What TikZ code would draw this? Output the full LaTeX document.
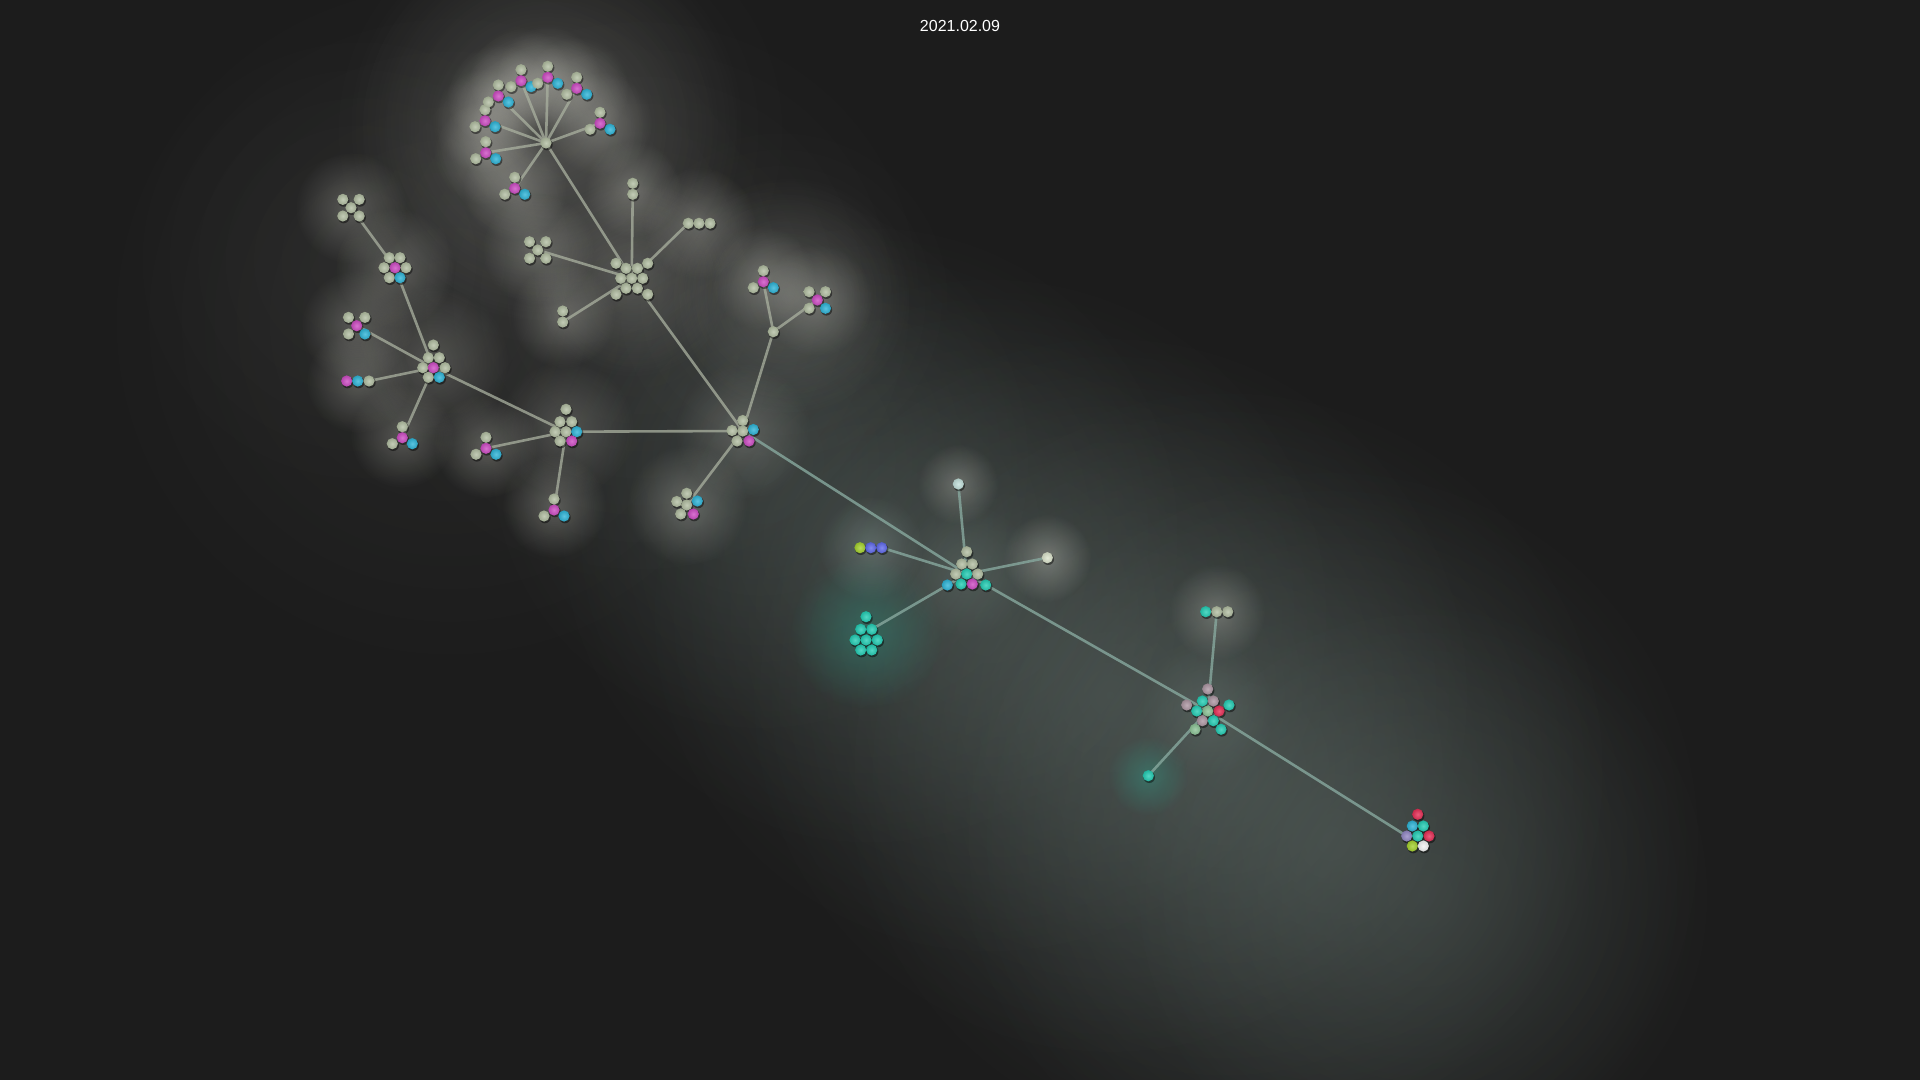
\documentclass[tikz,border=0pt]{standalone}
\usepackage{fontspec}
\setmainfont{Liberation Sans}
\usetikzlibrary{fadings}
\definecolor{bgc}{RGB}{28,28,28}
\definecolor{gr}{RGB}{178,190,162}
\definecolor{mg}{RGB}{205,75,195}
\definecolor{cy}{RGB}{45,180,215}
\definecolor{tl}{RGB}{35,205,180}
\definecolor{mv}{RGB}{172,150,162}
\definecolor{rd}{RGB}{230,45,85}
\definecolor{bu}{RGB}{95,105,235}
\definecolor{lm}{RGB}{165,210,45}
\definecolor{wh}{RGB}{245,245,245}
\definecolor{pc}{RGB}{195,225,220}
\definecolor{pw}{RGB}{220,228,205}
\definecolor{mt}{RGB}{140,195,150}
\definecolor{lv}{RGB}{145,135,195}
\definecolor{edgeup}{RGB}{170,177,160}
\definecolor{edgelo}{RGB}{135,168,158}
\definecolor{glw}{RGB}{215,215,205}
\definecolor{fog}{RGB}{120,122,118}
\definecolor{band}{RGB}{115,132,126}
\definecolor{tglow}{RGB}{40,200,170}
\tikzfading[name=glowf, inner color=transparent!0, outer color=transparent!100]
\pgfdeclarelayer{glowl}\pgfdeclarelayer{edgel}\pgfdeclarelayer{shadl}
\pgfsetlayers{glowl,edgel,shadl,main}
\tikzset{
  ball/.style={circle, inner sep=0pt, minimum size=5.6pt, inner color=#1!78!white, outer color=#1!88!black},
  lnk/.style={line width=1.3pt, draw=edgeup, opacity=.75},
  lnklo/.style={line width=1.3pt, draw=edgelo, opacity=.8},
}
% ball: name, colour, x, y
\newcommand\bl[4]{%
  \begin{pgfonlayer}{shadl}\fill[black,opacity=.45] (#3+0.9,#4+1.5) circle[radius=2.9pt];\end{pgfonlayer}%
  \node[ball=#2] (#1) at (#3,#4) {};}
% triad: magenta centre, green above, green lower left, cyan lower right
\newcommand\tri[3]{\bl{#1}{mg}{#2}{#3}\bl{#1t}{gr}{#2}{#3-11}\bl{#1l}{gr}{#2-10}{#3+6}\bl{#1r}{cy}{#2+10}{#3+6}}
% cross: centre, four diagonal neighbours
\newcommand\crs[5]{\bl{#1}{#4}{#2}{#3}\bl{#1a}{gr}{#2-8.2}{#3-8.3}\bl{#1b}{gr}{#2+8.2}{#3-8.3}\bl{#1c}{gr}{#2-8.2}{#3+8.3}\bl{#1d}{#5}{#2+8.2}{#3+8.3}}
% glow: x, y, radius(px), colour, opacity
\newcommand\glo[5]{\fill[#4, opacity=#5, path fading=glowf] (#1,#2) circle[radius=#3pt];}
\begin{document}
\begin{tikzpicture}[x=0.5pt,y=-0.5pt]
\useasboundingbox (0,0) rectangle (1920,1080);
\begin{pgfonlayer}{glowl}
\fill[bgc] (0,0) rectangle (1920,1080);
% band in lower right
\glo{760}{460}{140}{band}{.2}
\glo{870}{535}{160}{band}{.22}
\glo{990}{615}{175}{band}{.22}
\glo{1110}{695}{185}{band}{.24}
\glo{1225}{770}{195}{band}{.26}
\glo{1330}{840}{190}{band}{.26}
\glo{1420}{895}{150}{band}{.2}
% upper fog
\glo{450}{320}{180}{fog}{.13}
\glo{640}{300}{150}{fog}{.13}
\glo{560}{130}{120}{fog}{.12}
\glo{360}{260}{120}{fog}{.1}
\glo{780}{300}{90}{fog}{.13}
% halos upper
\glo{546}{125}{100}{glw}{.2}
\foreach \x/\y in {514.7/188.3,485.7/152.7,485/120.7,498.3/96,521/80.7,547.7/77.3,576.7/88.3,600/123.3}{\glo{\x}{\y}{26}{glw}{.3}}
\glo{632}{278}{50}{glw}{.2}
\glo{633}{189}{24}{glw}{.3}
\glo{699}{223}{28}{glw}{.3}
\glo{538}{250}{28}{glw}{.28}
\glo{563}{316}{26}{glw}{.3}
\glo{790}{295}{60}{glw}{.18}
\glo{763}{278}{26}{glw}{.28}
\glo{817}{300}{28}{glw}{.28}
\glo{743}{431}{34}{glw}{.22}
\glo{687}{505}{30}{glw}{.3}
\glo{566}{428}{34}{glw}{.22}
\glo{486}{446}{26}{glw}{.3}
\glo{554}{506}{26}{glw}{.3}
\glo{433}{362}{38}{glw}{.22}
\glo{395}{268}{30}{glw}{.28}
\glo{351}{208}{28}{glw}{.28}
\glo{357}{326}{28}{glw}{.28}
\glo{358}{381}{26}{glw}{.28}
\glo{402}{436}{26}{glw}{.28}
% halos lower
\glo{958}{484}{20}{glw}{.3}
\glo{1047}{558}{22}{glw}{.35}
\glo{871}{548}{26}{pc}{.22}
\glo{866}{633}{38}{tglow}{.28}
\glo{966}{570}{34}{band}{.3}
\glo{1217}{612}{24}{glw}{.3}
\glo{1148}{776}{20}{tglow}{.28}
\glo{1208}{709}{34}{band}{.3}
\end{pgfonlayer}
% ---------- balls ----------
\bl{T}{gr}{546}{143}
\tri{Ta}{514.7}{188.3}\tri{Tb}{485.7}{152.7}\tri{Tc}{485}{120.7}\tri{Td}{498.3}{96}
\tri{Te}{521}{80.7}\tri{Tf}{547.7}{77.3}\tri{Tg}{576.7}{88.3}\tri{Th}{600}{123.3}
% B
\bl{B}{gr}{631.7}{278.3}
\bl{Bi1}{gr}{626}{268.3}\bl{Bi2}{gr}{637.4}{268.3}\bl{Bi3}{gr}{620.7}{278.3}\bl{Bi4}{gr}{642.7}{278.3}
\bl{Bi5}{gr}{626}{288.3}\bl{Bi6}{gr}{637.4}{288.3}
\bl{Bo1}{gr}{616}{263.3}\bl{Bo2}{gr}{647.7}{263.3}\bl{Bo3}{gr}{616}{294.3}\bl{Bo4}{gr}{647.7}{294.3}
\bl{Ba}{gr}{632.7}{183.3}\bl{Bb}{gr}{632.7}{194.3}
\bl{Bc}{gr}{688.3}{223.3}\bl{Bd}{gr}{699}{223.3}\bl{Be}{gr}{710}{223.3}
\crs{Bf}{537.7}{250}{gr}{gr}
\bl{Bg}{gr}{562.7}{311}\bl{Bh}{gr}{562.7}{322}
% C
\coordinate (C) at (742.7,431);
\bl{Ca}{gr}{742.7}{420.5}\bl{Cb}{gr}{732}{430.5}\bl{Cc}{gr}{742.7}{431}\bl{Cd}{cy}{753.3}{429.5}
\bl{Ce}{gr}{737}{441}\bl{Cf}{mg}{749}{441}
\bl{Cga}{gr}{686.7}{493.3}\bl{Cgb}{gr}{676.7}{501.5}\bl{Cg}{gr}{686.7}{505}\bl{Cgc}{cy}{697.3}{501}
\bl{Cgd}{gr}{680.7}{514}\bl{Cge}{mg}{693.3}{514}
\bl{Cn}{gr}{773.3}{331.7}
\tri{Cp}{763.3}{281.7}
\crs{Cq}{817.3}{300}{mg}{cy}
% D
\bl{Da}{gr}{566}{409.3}\bl{Db}{gr}{560}{421.7}\bl{Dc}{gr}{571.7}{421.7}\bl{Dd}{gr}{555}{431.7}
\bl{D}{gr}{566}{431.7}\bl{De}{cy}{576.7}{431.7}\bl{Df}{gr}{560}{441}\bl{Dg}{mg}{571.7}{441}
\tri{Dh}{486}{448.3}\tri{Di}{554}{510}
% E
\bl{Ea}{gr}{433.3}{345}\bl{Eb}{gr}{428.3}{357.7}\bl{Ec}{gr}{439.3}{357.7}\bl{Ed}{gr}{422.7}{367.7}
\bl{E}{mg}{433.3}{367.7}\bl{Ee}{gr}{445}{367.7}\bl{Ef}{gr}{428.3}{377.3}\bl{Eg}{cy}{439.3}{377.3}
\bl{G}{mg}{395}{267.7}\bl{Ga}{gr}{389.3}{257.7}\bl{Gb}{gr}{400}{257.7}\bl{Gc}{gr}{384}{267.7}
\bl{Gd}{gr}{406}{267.7}\bl{Ge}{gr}{389.3}{277.7}\bl{Gf}{cy}{400}{277.7}
\crs{H}{351}{207.7}{gr}{gr}
\crs{Eh}{356.7}{325.7}{mg}{cy}
\bl{Ei}{mg}{346.7}{381}\bl{Ej}{cy}{357.7}{381}\bl{Ek}{gr}{369}{381}
\tri{El}{402.3}{437.7}
% I
\bl{Ia}{gr}{966.7}{551.7}\bl{Ib}{gr}{961.7}{564}\bl{Ic}{gr}{972.3}{564}\bl{Id}{gr}{955.7}{574}
\bl{I}{tl}{966.7}{574}\bl{Ie}{gr}{977.7}{574}\bl{If}{cy}{947.3}{585}\bl{Ig}{tl}{961}{584}
\bl{Ih}{mg}{972.3}{584}\bl{Ii}{tl}{985.7}{585}
\bl{Ij}{pc}{958.3}{484}
\bl{Ik}{pw}{1047.3}{557.7}
\bl{Il}{lm}{860}{547.7}\bl{Im}{bu}{870.7}{547.7}\bl{In}{bu}{881.7}{547.7}
\bl{Ka}{tl}{866}{616.7}\bl{Kb}{tl}{860.7}{629.3}\bl{Kc}{tl}{871.7}{629.3}\bl{Kd}{tl}{855}{640}
\bl{K}{tl}{866}{640}\bl{Ke}{tl}{877.3}{640}\bl{Kf}{tl}{860.7}{650}\bl{Kg}{tl}{871.7}{650}
% F
\bl{Fa}{mv}{1207.7}{689}\bl{Fb}{tl}{1202.3}{701}\bl{Fc}{mv}{1213.3}{701}\bl{Fd}{mv}{1186.7}{705}
\bl{Fe}{tl}{1229}{705}\bl{Ff}{tl}{1196.7}{711}\bl{F}{mt}{1207.7}{711}\bl{Fg}{rd}{1219}{711}
\bl{Fh}{mv}{1202.3}{720.7}\bl{Fi}{tl}{1213.3}{720.7}\bl{Fj}{mt}{1195}{729.3}\bl{Fk}{tl}{1221}{729.3}
\bl{Fl}{tl}{1205.7}{611.7}\bl{Fm}{gr}{1216.7}{611.7}\bl{Fn}{gr}{1227.7}{611.7}
\bl{Fo}{tl}{1148.3}{775.7}
% J
\bl{Ja}{rd}{1417.7}{814.3}\bl{Jb}{cy}{1412.3}{826}\bl{Jc}{tl}{1423.3}{826}
\bl{J}{lv}{1406.7}{836}\bl{Jd}{tl}{1417.7}{836}\bl{Je}{rd}{1429}{836}
\bl{Jf}{lm}{1412.3}{846}\bl{Jg}{wh}{1423.3}{846}
% ---------- connectors ----------
\begin{pgfonlayer}{edgel}
\foreach \s in {Ta,Tb,Tc,Td,Te,Tf,Tg,Th}{\draw[lnk] (T.center) -- (\s.center);}
\draw[lnk] (T.center) -- (B.center);
\draw[lnk] (B.center) -- (Bb.center);
\draw[lnk] (B.center) -- (Bc.center);
\draw[lnk] (B.center) -- (Bf.center);
\draw[lnk] (B.center) -- (Bh.center);
\draw[lnk] (B.center) -- (C);
\draw[lnk] (C) -- (Cn.center);
\draw[lnk] (Cn.center) -- (Cp.center);
\draw[lnk] (Cn.center) -- (Cq.center);
\draw[lnk] (C) -- (Cg.center);
\draw[lnk] (C) -- (D.center);
\draw[lnk] (D.center) -- (Dh.center);
\draw[lnk] (D.center) -- (Di.center);
\draw[lnk] (D.center) -- (E.center);
\draw[lnk] (E.center) -- (G.center);
\draw[lnk] (G.center) -- (H.center);
\draw[lnk] (E.center) -- (Eh.center);
\draw[lnk] (E.center) -- (Ek.center);
\draw[lnk] (E.center) -- (El.center);
\draw[lnklo] (C) -- (I.center);
\draw[lnklo] (I.center) -- (Ij.center);
\draw[lnklo] (I.center) -- (Ik.center);
\draw[lnklo] (I.center) -- (In.center);
\draw[lnklo] (I.center) -- (Kc.center);
\draw[lnklo] (I.center) -- (F.center);
\draw[lnklo] (F.center) -- (Fm.center);
\draw[lnklo] (F.center) -- (Fo.center);
\draw[lnklo] (F.center) -- (J.center);
\end{pgfonlayer}
\node[text=white, font=\fontsize{8}{9.6}\selectfont, inner sep=0pt] (date) at (960,26) {2021.02.09};
\end{tikzpicture}
\end{document}
